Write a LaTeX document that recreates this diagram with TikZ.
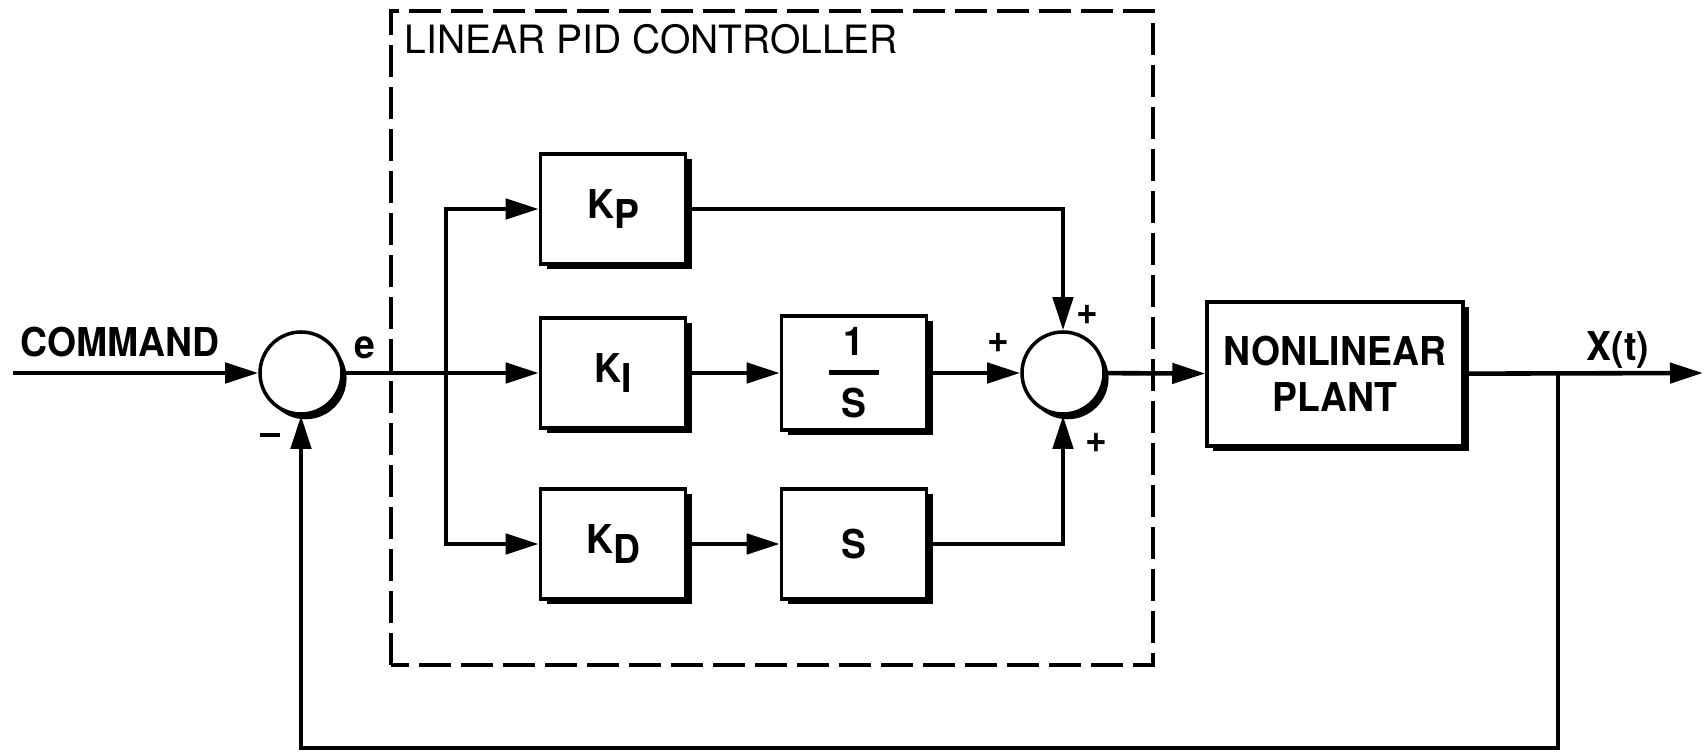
\documentclass[tikz,border=0pt]{standalone}
\usepackage{amsmath}
\usepackage{fontspec}
\setmainfont{TeX Gyre Heros}
\newfontfamily\lblfont[FakeStretch=0.94]{TeX Gyre Heros}
\usepackage{xcolor}
\usepackage{tikz}
\usetikzlibrary{shadows,arrows.meta,calc}

\tikzset{
  blk/.style={draw,line width=1pt,fill=white,minimum width=1.45cm,minimum height=1.1cm,
    drop shadow={shadow xshift=1.8pt,shadow yshift=-1.4pt,fill=black,opacity=1},
    font=\lblfont\fontsize{11.3}{13}\selectfont\bfseries,align=center},
  sumj/.style={draw,circle,line width=1pt,fill=white,minimum size=0.82cm,inner sep=0pt,
    drop shadow={shadow xshift=1.3pt,shadow yshift=-1.5pt,fill=black,opacity=1}},
  sig/.style={line width=1.3pt,-{Triangle[length=3.3mm,width=2mm]}},
  wire/.style={line width=1.3pt},
  lbl/.style={font=\lblfont\fontsize{11.3}{13}\selectfont\bfseries,inner sep=0pt}
}
\newcommand{\lowsub}[1]{\raisebox{-2.8pt}{#1}}

\begin{document}
\begin{tikzpicture}
  \useasboundingbox (0,0) rectangle (17.05,7.53);
  % controller boundary
  \draw[line width=1pt,dash pattern=on 0.32cm off 0.1cm] (3.91,0.88) rectangle (11.53,7.42);
  \node[anchor=west,inner sep=0pt,font=\fontsize{11.1}{12}\selectfont] (title) at (4.04,7.14) {LINEAR PID CONTROLLER};

  \node[sumj] (sumA) at (3.01,3.80) {};
  \node[blk] (kp) at (6.13,5.44) {K\lowsub{P}};
  \node[blk] (ki) at (6.13,3.80) {K\lowsub{I}};
  \node[blk] (kd) at (6.13,2.09) {K\lowsub{D}};
  \node[blk] (integ) at (8.54,3.80) {$\genfrac{}{}{1.3pt}{0}{\mbox{1}}{\mbox{\makebox[0.5cm]{S}}}$};
  \node[blk] (deriv) at (8.54,2.09) {S};
  \node[sumj] (sumB) at (10.63,3.80) {};
  \node[blk,minimum width=2.56cm,minimum height=1.44cm] (plant) at (13.35,3.79) {NONLINEAR\\PLANT};

  \coordinate (cmd) at (0.13,3.80);
  \coordinate (split) at (4.46,3.80);
  \coordinate (tap) at (15.58,3.80);
  \coordinate (fb) at (15.58,0.05);
  \coordinate (out) at (17.03,3.80);

  % signal paths
  \draw[sig] (cmd) -- (sumA);
  \draw[wire] (sumA) -- (split);
  \draw[sig] (split) |- (kp);
  \draw[sig] (split) -- (ki);
  \draw[sig] (split) |- (kd);
  \draw[sig] (ki) -- (integ);
  \draw[sig] (kd) -- (deriv);
  \draw[sig] (integ) -- (sumB);
  \draw[sig] (kp) -| (sumB);
  \draw[sig] (deriv) -| (sumB);
  \draw[sig] (sumB) -- (plant);
  \draw[sig] (plant) -- (out);
  \draw[sig] (tap) -- (fb) -| (sumA);

  \node[lbl,anchor=south] (lcmd) at (1.20,3.95) {COMMAND};
  \node[lbl] (le) at (3.65,4.05) {e};
  \node[lbl] (lminus) at (2.70,3.18) {\rule{0.2cm}{1.2pt}};
  \node[lbl] (lpa) at (10.87,4.38) {+};
  \node[lbl] (lpb) at (9.98,4.10) {+};
  \node[lbl] (lpc) at (10.96,3.10) {+};
  \node[lbl] (lx) at (16.18,4.03) {X(t)};
\end{tikzpicture}
\end{document}
